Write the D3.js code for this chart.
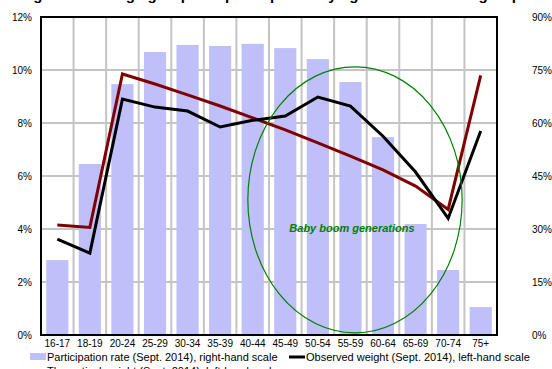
<!DOCTYPE html>
<html lang="en">
  <head>
    <meta charset="utf-8">
    <title>Participation and weights by age</title>
    <style>
      body { margin: 0; background: #fff; }
      svg { display: block; font-family: "Liberation Sans", Arial, sans-serif; }
    </style>
    <script src="https://d3js.org/d3.v7.min.js"></script>
  </head>
  <body>
    <script>
    // age groups and series
    const ages = ["16-17","18-19","20-24","25-29","30-34","35-39","40-44","45-49","50-54","55-59","60-64","65-69","70-74","75+"]
    const participation = [21.2,48.4,71.0,80.1,82.1,81.8,82.4,81.2,78.1,71.6,56.0,31.4,18.4,7.9]   // right-hand, %
    const observed = [3.62,3.09,8.9,8.6,8.45,7.85,8.1,8.26,8.98,8.64,7.5,6.15,4.4,7.7]           // left-hand, %
    const theoretical = [4.15,4.06,9.85,9.47,9.06,8.64,8.19,7.74,7.25,6.75,6.23,5.62,4.74,9.8]   // left-hand, %
    const leftTicks = [0,2,4,6,8,10,12]
    const rightTicks = [0,15,30,45,60,75,90]
    // annotation ellipse in data units (band index, left-hand %)
    const boom = { cx: 9.64, rx: 3.29, cy: 5.1, ry: 5.02, labelY: 3.9, label: "Baby boom generations" }

    const W = 552, H = 369
    const margin = { top: 17, left: 41, right: 55, bottom: 34 }

    const svg = d3.select("body").append("svg")
      .attr("width", W).attr("height", H)

    const x = d3.scaleBand().domain(ages).range([margin.left, W - margin.right])
    const yL = d3.scaleLinear().domain([0,12]).range([H - margin.bottom, margin.top])
    const yR = d3.scaleLinear().domain([0,90]).range([H - margin.bottom, margin.top])
    const bx = i => margin.left + i * x.bandwidth()

    // title, mostly above the window
    svg.append("text")
      .attr("x", W/2 + 10).attr("y", 0)
      .attr("text-anchor","middle")
      .style("font-size","15px").style("font-weight","bold")
      .text("Weight of each age group and participation by age and the labour group share")

    // grid
    svg.append("g").selectAll("line")
      .data(leftTicks.slice(1, -1))
      .join("line")
      .attr("x1", margin.left).attr("x2", W - margin.right)
      .attr("y1", d => yL(d)).attr("y2", d => yL(d))
      .attr("stroke","#c4c4c4").attr("stroke-width",2)

    svg.append("g").selectAll("line")
      .data(ages.slice(1))
      .join("line")
      .attr("x1", d => x(d)).attr("x2", d => x(d))
      .attr("y1", yL(12)).attr("y2", yL(0))
      .attr("stroke","#c4c4c4").attr("stroke-width",2)

    // bars
    const bw = x.bandwidth() * 0.68
    svg.append("g").selectAll("rect")
      .data(ages)
      .join("rect")
      .attr("x", d => x(d) + (x.bandwidth() - bw)/2)
      .attr("width", bw)
      .attr("y", (d,i) => yR(participation[i]))
      .attr("height", (d,i) => yR(0) - yR(participation[i]))
      .attr("fill","#bfbff9")

    // lines
    const line = d3.line()
      .x((d,i) => x(ages[i]) + x.bandwidth()/2)
      .y(d => yL(d))

    svg.append("path").datum(theoretical)
      .attr("d", line).attr("fill","none")
      .attr("stroke","#800000").attr("stroke-width",3)

    svg.append("path").datum(observed)
      .attr("d", line).attr("fill","none")
      .attr("stroke","#000").attr("stroke-width",3)

    // baby boom annotation
    svg.append("ellipse")
      .attr("cx", bx(boom.cx))
      .attr("cy", yL(boom.cy))
      .attr("rx", bx(boom.rx) - bx(0))
      .attr("ry", yL(0) - yL(boom.ry))
      .attr("fill","none").attr("stroke","#008000").attr("stroke-width",1.2)

    svg.append("text")
      .attr("x", bx(boom.cx) - 3).attr("y", yL(boom.labelY))
      .attr("text-anchor","middle")
      .attr("fill","#008000")
      .style("font-size","11px").style("font-weight","bold").style("font-style","italic")
      .text(boom.label)

    // frame
    svg.append("rect")
      .attr("x", margin.left).attr("y", margin.top)
      .attr("width", W - margin.right - margin.left)
      .attr("height", H - margin.bottom - margin.top)
      .attr("fill","none").attr("stroke","#000").attr("stroke-width",2)

    // axes
    const styleTicks = g => g.selectAll("text")
      .style("font-size","10px").attr("fill","#000").attr("font-family",null)

    svg.append("g")
      .attr("transform", `translate(${margin.left - 6},0)`)
      .call(d3.axisLeft(yL).tickValues(leftTicks).tickFormat(d => d + "%").tickSize(0))
      .call(g => g.select(".domain").remove())
      .call(styleTicks)

    svg.append("g")
      .attr("transform", `translate(${W - margin.right + 32},0)`)
      .call(d3.axisRight(yR).tickValues(rightTicks).tickFormat(d => d + "%").tickSize(0))
      .call(g => g.select(".domain").remove())
      .call(styleTicks)

    svg.append("g")
      .attr("transform", `translate(0,${H - margin.bottom + 2})`)
      .call(d3.axisBottom(x).tickSize(0))
      .call(g => g.select(".domain").remove())
      .call(styleTicks)

    // legend
    const lg = svg.append("g").style("font-size","11px")
    lg.append("rect").attr("x",30).attr("y",353).attr("width",16).attr("height",7).attr("fill","#bfbff9")
    lg.append("text").attr("x",47).attr("y",361).text("Participation rate (Sept. 2014), right-hand scale")
    lg.append("line").attr("x1",289).attr("x2",305).attr("y1",357).attr("y2",357).attr("stroke","#000").attr("stroke-width",3)
    lg.append("text").attr("x",306).attr("y",361).text("Observed weight (Sept. 2014), left-hand scale")
    lg.append("line").attr("x1",30).attr("x2",46).attr("y1",371).attr("y2",371).attr("stroke","#800000").attr("stroke-width",3)
    lg.append("text").attr("x",47).attr("y",375).text("Theoretical weight (Sept. 2014), left-hand scale")
    </script>
  </body>
</html>
